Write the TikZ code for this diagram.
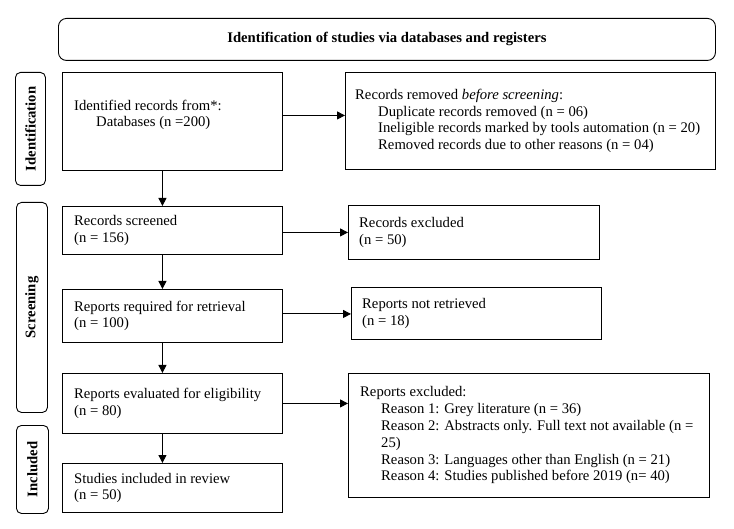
\documentclass[tikz,border=0pt]{standalone}
\usepackage{fontspec}
\setmainfont{Liberation Serif}
\usetikzlibrary{arrows.meta,calc}
\newcommand\myfs{\fontsize{14.67}{16.8}\selectfont}
\begin{document}
\begin{tikzpicture}[x=1pt,y=-1pt,
  every node/.style={font=\myfs},
  box/.style={draw, line width=0.9pt, rectangle, inner sep=0pt, anchor=north west},
  side/.style={draw, line width=0.9pt, rounded corners=5pt, inner sep=0pt, anchor=north west},
  sidetxt/.style={rotate=90, font=\myfs\bfseries, inner sep=0pt},
  txt/.style={align=left, anchor=west, inner sep=0pt},
  arr/.style={line width=0.9pt, -{Triangle[length=8pt,width=8pt]}}]
\useasboundingbox (0,0) rectangle (734,529);
\fill[white] (0,0) rectangle (734,529);

% header
\node[draw, line width=0.9pt, rounded corners=8pt, minimum width=657pt, minimum height=42pt,
      anchor=north west, inner sep=0pt, font=\myfs\bfseries] (hdr) at (58,18)
      {Identification of studies via databases and registers};

% side labels
\node[side, minimum width=30pt, minimum height=113pt] (s1) at (15,72) {};
\node[sidetxt] (s1t) at (s1.center) {Identification};
\node[side, minimum width=31pt, minimum height=210pt] (s2) at (16,202) {};
\node[sidetxt] (s2t) at (s2.center) {Screening};
\node[side, minimum width=32pt, minimum height=88pt] (s3) at (16,425) {};
\node[sidetxt] (s3t) at (s3.center) {Included};

% left boxes
\node[box, minimum width=220pt, minimum height=98pt] (b1) at (62,72) {};
\node[box, minimum width=220pt, minimum height=48pt] (b2) at (62,206) {};
\node[box, minimum width=220pt, minimum height=53pt] (b3) at (62,289) {};
\node[box, minimum width=220pt, minimum height=60pt] (b4) at (62,373) {};
\node[box, minimum width=220pt, minimum height=49pt] (b5) at (62,463) {};

% right boxes
\node[box, minimum width=370pt, minimum height=97pt] (r1) at (345,72) {};
\node[box, minimum width=251pt, minimum height=54pt] (r2) at (348,205) {};
\node[box, minimum width=250pt, minimum height=52pt] (r3) at (351,287) {};
\node[box, minimum width=361pt, minimum height=124pt] (r4) at (348,373) {};

% texts
\node[txt] (b1t) at ([xshift=12pt,yshift=6.5pt]b1.west)
  {Identified records from*:\\\hspace*{22pt}Databases (n =200)};
\node[txt] (b2t) at ([xshift=12pt]b2.west) {Records screened\\(n = 156)};
\node[txt] (b3t) at ([xshift=12pt]b3.west) {Reports required for retrieval\\(n = 100)};
\node[txt] (b4t) at ([xshift=12pt]b4.west) {Reports evaluated for eligibility\\(n = 80)};
\node[txt] (b5t) at ([xshift=12pt]b5.west) {Studies included in review\\(n = 50)};

\node[txt] (r1t) at ([xshift=10pt]r1.west)
  {Records removed \textit{before screening}:\\
   \hspace*{23pt}Duplicate records removed (n = 06)\\
   \hspace*{23pt}Ineligible records marked by tools automation (n = 20)\\
   \hspace*{23pt}Removed records due to other reasons (n = 04)};
\node[txt] (r2t) at ([xshift=11pt]r2.west) {Records excluded\\(n = 50)};
\node[txt] (r3t) at ([xshift=11pt]r3.west) {Reports not retrieved\\(n = 18)};
\node[txt] (r4t) at ([xshift=12pt]r4.west)
  {Reports excluded:\\
   \hspace*{21pt}Reason 1: Grey literature (n = 36)\\
   \hspace*{21pt}Reason 2: Abstracts only. Full text not available (n =\\
   \hspace*{21pt}25)\\
   \hspace*{21pt}Reason 3: Languages other than English (n = 21)\\
   \hspace*{21pt}Reason 4: Studies published before 2019 (n= 40)};

% vertical arrows
\draw[arr] ([xshift=-10pt]b1.south) -- ([xshift=-10pt]b2.north);
\draw[arr] ([xshift=-10pt]b2.south) -- ([xshift=-10pt]b3.north);
\draw[arr] ([xshift=-10pt]b3.south) -- ([xshift=-10pt]b4.north);
\draw[arr] ([xshift=-10pt]b4.south) -- ([xshift=-10pt]b5.north);

% horizontal arrows
\draw[arr] ([yshift=6pt]b1.east) coordinate (a1) -- (a1 -| r1.west);
\draw[arr] ([yshift=-2pt]b2.east) coordinate (a2) -- (a2 -| r2.west);
\draw[arr] ([yshift=2pt]b3.east) coordinate (a3) -- (a3 -| r3.west);
\draw[arr] (b4.east) -- (b4.east -| r4.west);
\end{tikzpicture}
\end{document}
